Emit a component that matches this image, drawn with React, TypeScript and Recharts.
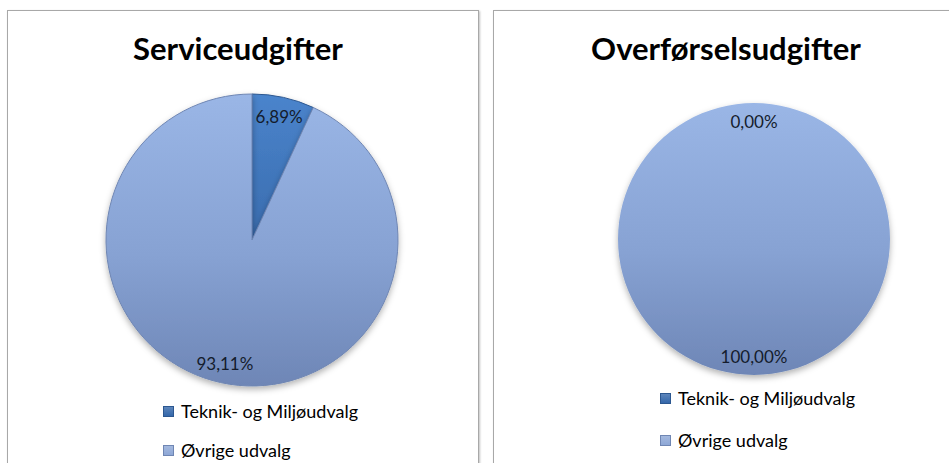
import { Cell, Legend, Pie, PieChart } from "recharts"

const categories = ["Teknik- og Miljøudvalg", "Øvrige udvalg"]
const serviceShares = [6.89, 93.11]
const transferShares = [0, 100]

const SLICE_FILLS = ["url(#gradDark)", "url(#gradLight)"]
const SLICE_STROKES = ["#2c5790", "#6f86b3"]
const LEGEND_COLORS = ["#3467aa", "#8da7d6"]

const FONT = "Lato, 'Open Sans', sans-serif"
const RADIAN = Math.PI / 180

const fmt = (v: number) => v.toFixed(2).replace(".", ",") + "%"

function buildRows(shares: number[]) {
  return categories.map((name, i) => ({ name, value: shares[i] }))
}

function renderLabel(props: any) {
  const { cx, cy, midAngle, outerRadius, value } = props
  const r = outerRadius * 0.865
  const x = cx + r * Math.cos(-midAngle * RADIAN)
  const y = cy + r * Math.sin(-midAngle * RADIAN)
  return (
    <text
      x={x}
      y={y}
      textAnchor="middle"
      dominantBaseline="central"
      fill="#141c2c"
      fontSize={17}
      fontFamily={FONT}
    >
      {fmt(value)}
    </text>
  )
}

function LegendRows({ payload, gap }: { payload?: any[]; gap: number }) {
  return (
    <div style={{ fontFamily: FONT, fontSize: 18, color: "#000" }}>
      {(payload ?? []).map((entry, i) => (
        <div
          key={entry.value}
          style={{ display: "flex", alignItems: "center", height: 20, marginBottom: gap - 20 }}
        >
          <span
            style={{
              display: "inline-block",
              width: 9,
              height: 9,
              marginRight: 7,
              background: `linear-gradient(${LEGEND_COLORS[i]}cc, ${LEGEND_COLORS[i]})`,
              border: `1px solid ${SLICE_STROKES[i]}`,
            }}
          />
          {entry.value}
        </div>
      ))}
    </div>
  )
}

function Panel({
  title,
  shares,
  left,
  cx,
  cy,
  radius,
  legendLeft,
  legendTop,
  legendGap,
  titleCenter,
}: {
  title: string
  shares: number[]
  left: number
  cx: number
  cy: number
  radius: number
  legendLeft: number
  legendTop: number
  legendGap: number
  titleCenter: number
}) {
  const rows = buildRows(shares)
  return (
    <div
      style={{
        position: "absolute",
        left,
        top: 10,
        width: 470,
        height: 480,
        border: "1px solid #a8a8a8",
        boxShadow: "1px 1px 2px rgba(0,0,0,0.25)",
        background: "#fff",
      }}
    >
      <div
        style={{
          position: "absolute",
          left: titleCenter - 200,
          width: 400,
          top: 18,
          textAlign: "center",
          fontFamily: FONT,
          fontWeight: 700,
          fontSize: 31,
          color: "#000",
        }}
      >
        {title}
      </div>
      <div style={{ position: "absolute", left: 0, top: 0 }}>
        <PieChart width={470} height={460}>
          <defs>
            <linearGradient id="gradLight" x1="0" y1="0" x2="0" y2="1">
              <stop offset="0%" stopColor="#9ab6e6" />
              <stop offset="55%" stopColor="#87a2d3" />
              <stop offset="100%" stopColor="#6e86b6" />
            </linearGradient>
            <linearGradient id="gradDark" x1="0" y1="0" x2="0" y2="1">
              <stop offset="0%" stopColor="#4a84cc" />
              <stop offset="100%" stopColor="#3a6cae" />
            </linearGradient>
            <filter id="pieShadow" x="-10%" y="-10%" width="120%" height="125%">
              <feDropShadow dx="0" dy="3" stdDeviation="3" floodColor="#000" floodOpacity="0.3" />
            </filter>
          </defs>
          <Pie
            data={rows}
            dataKey="value"
            nameKey="name"
            cx={cx}
            cy={cy}
            outerRadius={radius}
            startAngle={90}
            endAngle={-270}
            label={renderLabel}
            labelLine={false}
            isAnimationActive={false}
          >
            {rows.map((row, i) => (
              <Cell
                key={row.name}
                fill={SLICE_FILLS[i]}
                stroke={row.value > 0 && row.value < 100 ? SLICE_STROKES[i] : "none"}
                strokeWidth={1}
                filter="url(#pieShadow)"
              />
            ))}
          </Pie>
          <Legend
            layout="vertical"
            align="center"
            verticalAlign="middle"
            wrapperStyle={{ left: legendLeft, top: legendTop, width: 300 }}
            content={(p: any) => <LegendRows payload={p.payload} gap={legendGap} />}
          />
        </PieChart>
      </div>
    </div>
  )
}

export default function App() {
  return (
    <div
      style={{
        position: "fixed",
        left: 0,
        top: 0,
        width: 949,
        height: 463,
        overflow: "hidden",
        background: "#fff",
      }}
    >
      <Panel
        title="Serviceudgifter"
        shares={serviceShares}
        left={7}
        cx={239}
        cy={224}
        radius={146}
        legendLeft={155}
        legendTop={390}
        legendGap={39}
        titleCenter={230}
      />
      <Panel
        title="Overførselsudgifter"
        shares={transferShares}
        left={493}
        cx={255}
        cy={223}
        radius={136}
        legendLeft={166}
        legendTop={377}
        legendGap={42}
        titleCenter={232}
      />
    </div>
  )
}
